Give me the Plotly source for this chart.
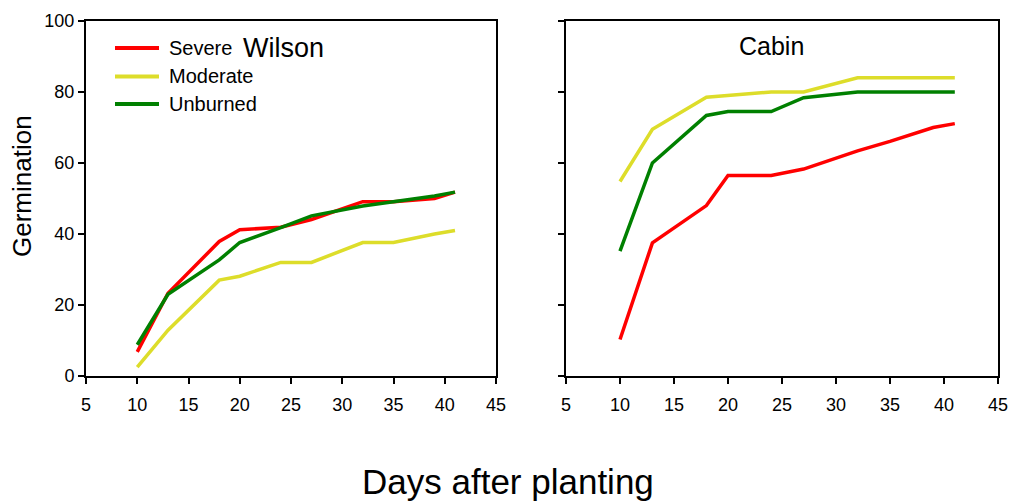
import plotly.graph_objects as go

# ---------------- data ----------------
series_names = ["Severe", "Moderate", "Unburned"]
series_colors = ["#FF0000", "#DDDD2A", "#008000"]

days = [10, 13, 18, 20, 24, 27, 32, 35, 39, 41]

wilson_severe = [6.8, 23.3, 37.9, 41.2, 41.9, 44.1, 49.1, 49.1, 50.0, 51.8]
wilson_moderate = [2.5, 12.9, 27.0, 28.1, 32.0, 32.0, 37.6, 37.6, 40.0, 41.0]
wilson_unburned = [8.8, 23.0, 32.7, 37.6, 41.8, 45.1, 47.9, 49.0, 50.7, 51.8]

cabin_severe = [10.3, 37.5, 48.0, 56.5, 56.5, 58.3, 63.4, 66.1, 70.0, 71.1]
cabin_moderate = [54.8, 69.5, 78.5, 79.0, 80.0, 80.0, 84.0, 84.0, 84.0, 84.0]
cabin_unburned = [35.2, 60.0, 73.4, 74.5, 74.5, 78.4, 80.0, 80.0, 80.0, 80.0]

x_ticks = [5, 10, 15, 20, 25, 30, 35, 40, 45]
y_ticks = [0, 20, 40, 60, 80, 100]

panel_titles = ["Wilson", "Cabin"]
x_title = "Days after planting"
y_title = "Germination"

# ---------------- figure ----------------
W, H = 1012, 502
fig = go.Figure()

panels = [
    ("x", "y", [wilson_severe, wilson_moderate, wilson_unburned]),
    ("x2", "y2", [cabin_severe, cabin_moderate, cabin_unburned]),
]
for xa, ya, vals in panels:
    for name, color, v in zip(series_names, series_colors, vals):
        fig.add_trace(go.Scatter(
            x=days, y=v, mode="lines", name=name,
            line=dict(color=color, width=3.5),
            xaxis=xa, yaxis=ya, showlegend=False,
        ))

FONT = "Liberation Sans, Arial, sans-serif"

ax_common = dict(
    showline=True, linecolor="black", linewidth=2, mirror=True,
    ticks="outside", ticklen=6, tickwidth=1.5, tickcolor="black",
    showgrid=False, zeroline=False, automargin=False,
    tickfont=dict(family=FONT, size=18, color="black"),
)

y_dom = [1 - 376 / H, 1 - 21 / H]
fig.update_layout(
    width=W, height=H,
    margin=dict(l=0, r=0, t=0, b=0, autoexpand=False),
    paper_bgcolor="white", plot_bgcolor="white",
    xaxis=dict(domain=[86 / W, 496 / W], range=[5, 45], tickvals=x_ticks,
               anchor="y", ticklabelstandoff=5, **ax_common),
    yaxis=dict(domain=y_dom, range=[0, 100], tickvals=y_ticks, anchor="x",
               **ax_common),
    xaxis2=dict(domain=[566 / W, 998 / W], range=[5, 45], tickvals=x_ticks,
                anchor="y2", ticklabelstandoff=5, **ax_common),
    yaxis2=dict(domain=y_dom, range=[0, 100], tickvals=y_ticks, anchor="x2",
                showticklabels=False, **ax_common),
    showlegend=False,
)

# shared x title
fig.add_annotation(text=x_title, xref="paper", yref="paper",
                   x=508 / W, y=1 - 481 / H, xanchor="center", yanchor="middle",
                   showarrow=False, font=dict(family=FONT, size=35, color="black"))
# y title
fig.add_annotation(text=y_title, xref="paper", yref="paper",
                   x=22 / W, y=1 - 186 / H, xanchor="center", yanchor="middle",
                   textangle=-90, showarrow=False,
                   font=dict(family=FONT, size=26, color="black"))

# panel titles
fig.add_annotation(text=panel_titles[0], xref="paper", yref="paper",
                   x=241 / W, y=1 - 48 / H, xanchor="left", yanchor="middle",
                   showarrow=False, font=dict(family=FONT, size=27, color="black"))
fig.add_annotation(text=panel_titles[1], xref="paper", yref="paper",
                   x=771 / W, y=1 - 46 / H, xanchor="center", yanchor="middle",
                   showarrow=False, font=dict(family=FONT, size=25, color="black"))

# legend (inside left panel)
leg_y = [48, 76.5, 104]
for name, color, yy in zip(series_names, series_colors, leg_y):
    fig.add_shape(type="line", xref="paper", yref="paper",
                  x0=115 / W, x1=159 / W, y0=1 - yy / H, y1=1 - yy / H,
                  line=dict(color=color, width=4))
    fig.add_annotation(text=name, xref="paper", yref="paper",
                       x=167 / W, y=1 - yy / H, xanchor="left", yanchor="middle",
                       showarrow=False, font=dict(family=FONT, size=20, color="black"))

fig.write_html("out.html")
